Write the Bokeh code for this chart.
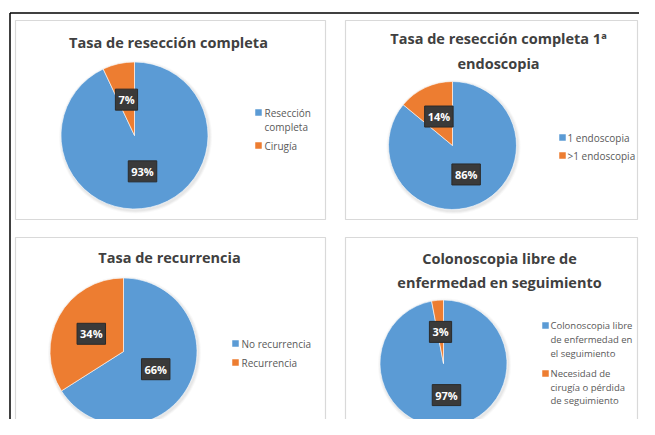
import numpy as np
from bokeh.plotting import figure
from bokeh.models import Range1d
from bokeh.embed import file_html
from bokeh.resources import INLINE
from bokeh.core.properties import value

# ---- data ----
title_1 = ["Tasa de resección completa"]
title_2 = ["Tasa de resección completa 1ª", "endoscopia"]
title_3 = ["Tasa de recurrencia"]
title_4 = ["Colonoscopia libre de", "enfermedad en seguimiento"]

cats_1 = [["Resección", "completa"], ["Cirugía"]]
cats_2 = [["1 endoscopia"], [">1 endoscopia"]]
cats_3 = [["No recurrencia"], ["Recurrencia"]]
cats_4 = [["Colonoscopia libre", "de enfermedad en", "el seguimiento"],
          ["Necesidad de", "cirugía o pérdida", "de seguimiento"]]

vals_1 = [93, 7]
vals_2 = [86, 14]
vals_3 = [66, 34]
vals_4 = [97, 3]

colors = ["#5B9BD5", "#ED7D31"]

# ---- layout (pixel positions) ----
panels = [
    dict(box=(15, 20, 325, 219), c=(134, 135), r=73.5, tx=168, ty=[42],
         mx=258, lx=264, fs="10px", ly=[[112, 126], [145]], title=title_1, cats=cats_1, vals=vals_1),
    dict(box=(345, 20, 637, 219), c=(452, 145), r=64, tx=498, ty=[38, 63],
         mx=562, lx=567, fs="10px", ly=[[137], [155]], title=title_2, cats=cats_2, vals=vals_2),
    dict(box=(15, 237, 325, 445), c=(123, 351), r=73.5, tx=169, ty=[257],
         mx=235, lx=241, fs="10px", ly=[[343], [362]], title=title_3, cats=cats_3, vals=vals_3),
    dict(box=(345, 237, 637, 445), c=(443, 363), r=63.5, tx=499, ty=[258, 282],
         mx=545, lx=550, fs="9.5px", ly=[[325, 339, 353], [373, 387, 400]], title=title_4, cats=cats_4, vals=vals_4),
]

p = figure(width=639, height=419, x_range=Range1d(0, 639), y_range=Range1d(-419, 0),
           output_backend="svg", toolbar_location=None, min_border=0)
p.axis.visible = False
p.grid.visible = False
p.outline_line_color = None
p.background_fill_color = "white"

# outer black frame
p.line([9.5, 660], [-12.5, -12.5], line_color="black", line_width=1.5)
p.line([9.5, 9.5], [-12.5, -440], line_color="black", line_width=1.5)

for pn in panels:
    x0, y0, x1, y1 = pn["box"]
    p.quad(left=x0, right=x1, top=-y0, bottom=-y1, fill_color="white",
           line_color="#d9d9d9", line_width=1.2)
    # title
    for t, ty in zip(pn["title"], pn["ty"]):
        p.text(x=[pn["tx"]], y=[-ty], text=[t], text_align="center", text_baseline="middle",
               text_font=value("Open Sans"), text_font_style="bold", text_font_size="14.5px",
               text_color="#404040")
    cx, cy = pn["c"]
    r = pn["r"]
    # soft shadow
    for k, a in [(3, 0.05), (2, 0.07), (1, 0.08)]:
        p.circle(x=[cx + 1], y=[-cy - 1.5], radius=r + k, fill_color="#808080",
                 fill_alpha=a, line_color=None)
    vals = np.array(pn["vals"], dtype=float)
    fr = vals / vals.sum()
    cum = np.concatenate([[0], np.cumsum(fr)])
    start = np.pi / 2 - cum[1:] * 2 * np.pi
    end = np.pi / 2 - cum[:-1] * 2 * np.pi
    p.wedge(x=[cx] * len(vals), y=[-cy] * len(vals), radius=r, start_angle=start,
            end_angle=end, fill_color=colors[:len(vals)], line_color="white", line_width=0.6)
    mid = np.pi / 2 - (cum[:-1] + cum[1:]) / 2 * 2 * np.pi
    lx = cx + 0.5 * r * np.cos(mid)
    ly = -cy + 0.5 * r * np.sin(mid)
    labels = ["%d%%" % v for v in pn["vals"]]
    p.text(x=lx, y=ly, text=labels, text_align="center", text_baseline="middle",
           text_font=value("Open Sans"), text_font_style="bold", text_font_size="11px",
           text_color="white", background_fill_color="#3a3a3a", padding=3,
           border_line_color="#2a2a2a")
    # legend
    for i, (lines, ys) in enumerate(zip(pn["cats"], pn["ly"])):
        p.scatter(x=[pn["mx"]], y=[-ys[0]], marker="square", size=6.5,
                  fill_color=colors[i], line_color=None)
        p.text(x=[pn["lx"]] * len(lines), y=[-y for y in ys], text=lines,
               text_align="left", text_baseline="middle", text_font=value("Open Sans"),
               text_font_size=pn["fs"], text_color="#595959")

open("out.html", "w").write(file_html(p, INLINE))
